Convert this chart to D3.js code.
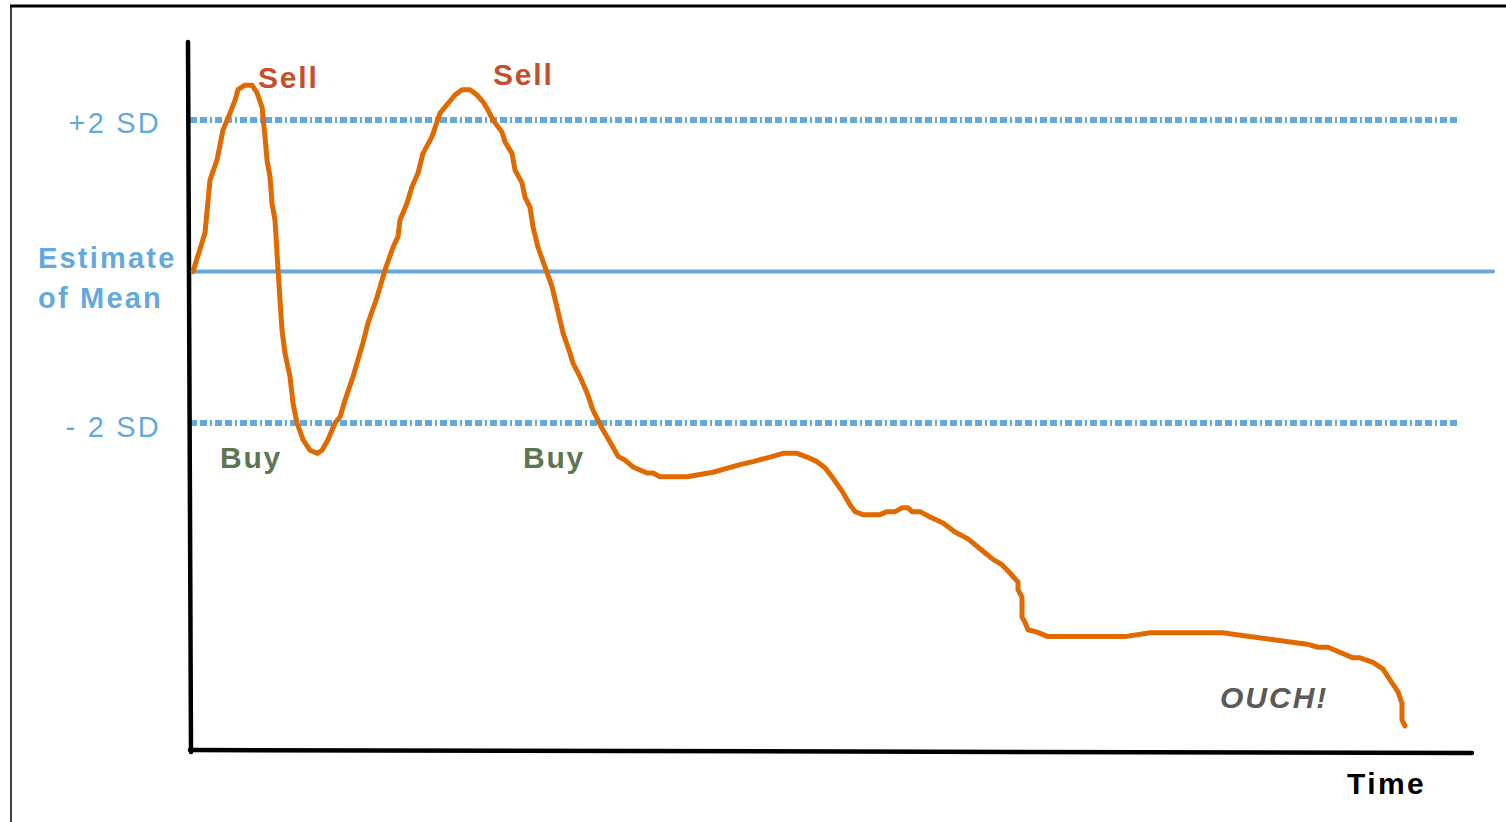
<!DOCTYPE html>
<html>
<head>
<meta charset="utf-8">
<script src="https://cdn.jsdelivr.net/npm/d3@7"></script>
<style>
  body { margin:0; background:#fff; }
  text { font-family: "Liberation Sans", Arial, sans-serif; }
</style>
</head>
<body>
<svg id="chart" width="1506" height="822"></svg>
<script>
// time runs 0..1282 along the axis, value is in SD units (mean = 0)
var time = [3,15,20,27,33,40,45,48,55,62,67,72,75,77,80,82,85,88,92,95,100,103,107,113,120,127,132,138,145,150,155,
  163,167,173,178,187,195,203,208,210,217,222,228,233,242,250,255,265,272,280,287,293,298,303,312,315,322,325,332,335,
  340,343,348,355,362,370,373,380,383,390,397,403,412,420,428,435,443,457,463,470,497,523,550,563,580,593,607,617,627,
  635,643,653,660,665,673,690,697,705,712,718,722,730,740,753,765,778,790,803,812,820,828,828,832,832,835,838,847,858,
  935,960,1033,1043,1117,1128,1138,1163,1170,1183,1193,1200,1208,1212,1212,1215]
var value = [0,0.51,1.21,1.47,1.87,2.09,2.26,2.40,2.46,2.46,2.36,2.17,1.78,1.47,1.25,0.90,0.68,0.02,-0.77,-1.08,-1.39,-1.74,-2.00,-2.22,-2.36,-2.40,-2.36,-2.22,-2.00,-1.92,-1.70,
  -1.39,-1.21,-0.94,-0.68,-0.34,0.02,0.32,0.46,0.68,0.90,1.12,1.30,1.56,1.78,2.09,2.17,2.33,2.40,2.40,2.33,2.24,2.13,2.00,1.84,1.71,1.56,1.34,1.17,0.98,
  0.85,0.59,0.32,0.06,-0.20,-0.64,-0.81,-1.08,-1.21,-1.39,-1.60,-1.83,-2.07,-2.25,-2.44,-2.49,-2.58,-2.66,-2.66,-2.71,-2.71,-2.65,-2.55,-2.51,-2.45,-2.40,-2.40,-2.45,-2.51,
  -2.59,-2.73,-2.92,-3.08,-3.17,-3.21,-3.21,-3.17,-3.17,-3.12,-3.12,-3.17,-3.17,-3.24,-3.32,-3.44,-3.53,-3.66,-3.80,-3.87,-3.98,-4.10,-4.20,-4.30,-4.56,-4.63,-4.73,-4.76,-4.82,
  -4.82,-4.77,-4.77,-4.79,-4.92,-4.96,-4.96,-5.10,-5.10,-5.16,-5.25,-5.39,-5.55,-5.70,-5.92,-6.00]

var levels = [2, 0, -2]
var levelLabels = ["+2 SD", "Estimate of Mean", "- 2 SD"]

var signalText = ["Sell", "Sell", "Buy", "Buy"]
var signalTime = [68, 303, 30, 333]
var signalValue = [2.42, 2.46, -2.59, -2.59]

var svg = d3.select('#chart')

var x = d3.scaleLinear().domain([0, 1282]).range([190, 1472])
var y = d3.scaleLinear().domain([-2, 2]).range([423, 120])

var blue = '#64a9de', orange = '#e06a00'

// frame
svg.append('line').attr('x1',10).attr('x2',1506).attr('y1',6).attr('y2',6)
  .attr('stroke','#000').attr('stroke-width',3)
svg.append('line').attr('x1',11).attr('x2',11).attr('y1',6).attr('y2',822)
  .attr('stroke','#000').attr('stroke-width',1.5)

// reference lines
svg.selectAll('line.level')
  .data(levels)
  .enter()
  .append('line')
  .classed('level',true)
  .attr('x1', x(0))
  .attr('x2', d => d==0 ? 1493 : 1457)
  .attr('y1', d => y(d))
  .attr('y2', d => y(d))
  .attr('stroke', blue)
  .attr('stroke-width', d => d==0 ? 4 : 6)
  .attr('stroke-linecap', d => d==0 ? 'round' : 'butt')
  .attr('stroke-dasharray', d => d==0 ? null : '7,3,7,3,2,3')

// axes (hand drawn look, slightly tilted)
svg.append('line').attr('x1',188).attr('y1',42).attr('x2',191).attr('y2',752)
  .attr('stroke','#000').attr('stroke-width',4.5).attr('stroke-linecap','round')
svg.append('line').attr('x1',190).attr('y1',750).attr('x2',x(1282)).attr('y2',753)
  .attr('stroke','#000').attr('stroke-width',4.5).attr('stroke-linecap','round')

// level labels
svg.append('text').text(levelLabels[0])
  .attr('x',161).attr('y',y(2)+13).attr('text-anchor','end')
  .attr('font-size',29).attr('letter-spacing',2.2).attr('fill',blue)
svg.append('text').text(levelLabels[2])
  .attr('x',161).attr('y',y(-2)+14).attr('text-anchor','end')
  .attr('font-size',29).attr('letter-spacing',2.2).attr('fill',blue)
var mean = svg.append('text')
  .attr('font-size',29).attr('font-weight','bold').attr('letter-spacing',2.2).attr('fill',blue)
mean.append('tspan').attr('x',38).attr('y',y(0)-4).text(levelLabels[1].split(' ')[0])
mean.append('tspan').attr('x',38).attr('y',y(0)+36).text(levelLabels[1].split(' ').slice(1).join(' '))

// price path
var line = d3.line()
  .x(function(d,i){return x(time[i])})
  .y(function(d){return y(d)})
  .curve(d3.curveLinear)

svg.append('path')
  .attr('d', line(value))
  .attr('fill','none')
  .attr('stroke', orange)
  .attr('stroke-width', 5)
  .attr('stroke-linejoin','round')
  .attr('stroke-linecap','round')

// signals
svg.selectAll('text.signal')
  .data(signalText)
  .enter()
  .append('text')
  .classed('signal',true)
  .attr('x', (d,i) => x(signalTime[i]))
  .attr('y', (d,i) => y(signalValue[i]))
  .attr('font-size',30)
  .attr('font-weight','bold')
  .attr('letter-spacing',1.8)
  .attr('fill', d => d=='Sell' ? '#c4502b' : '#5e7752')
  .text(d => d)

svg.append('text').text('OUCH!')
  .attr('x',1220).attr('y',708)
  .attr('font-size',30).attr('font-weight','bold').attr('font-style','italic')
  .attr('letter-spacing',2).attr('fill','#5a5a5a')

svg.append('text').text('Time')
  .attr('x',1347).attr('y',794)
  .attr('font-size',30).attr('font-weight','bold')
  .attr('letter-spacing',2.4).attr('fill','#000')
</script>
</body>
</html>
